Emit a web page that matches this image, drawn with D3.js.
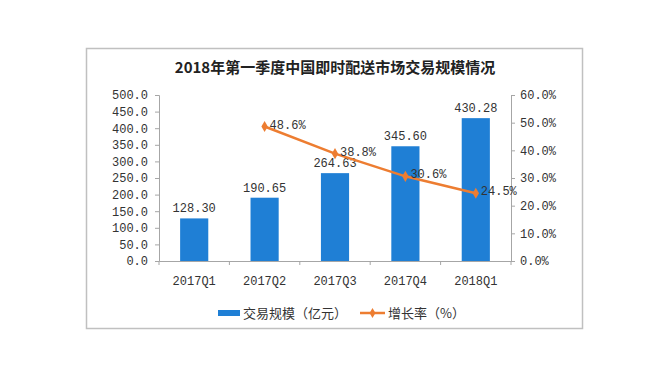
<!DOCTYPE html>
<html><head><meta charset="utf-8">
<script src="https://cdn.jsdelivr.net/npm/d3@7"></script>
<style>body{margin:0;background:#fff;}svg{display:block;}</style>
</head><body>
<svg id="c" width="657" height="383"></svg>
<script>
const title = "2018年第一季度中国即时配送市场交易规模情况";
const categories = ["2017Q1","2017Q2","2017Q3","2017Q4","2018Q1"];
const scaleValues = [128.30,190.65,264.63,345.60,430.28];
const scaleLabels = ["128.30","190.65","264.63","345.60","430.28"];
const growthCats = ["2017Q2","2017Q3","2017Q4","2018Q1"];
const growthValues = [48.6,38.8,30.6,24.5];
const leftTicks = [0,50,100,150,200,250,300,350,400,450,500];
const rightTicks = [0,10,20,30,40,50,60];
const legendNames = ["交易规模（亿元）","增长率（%）"];

const svg = d3.select("#c");
const numFont = "'Liberation Mono', 'DejaVu Sans Mono', monospace";
const cjkFont = "'Noto Sans CJK SC', sans-serif";
const barColor = "#1f7fd5", lineColor = "#ed7d31", axisColor = "#a6a6a6";

// frame
svg.append("rect").attr("x",86.5).attr("y",48.5).attr("width",496).attr("height",280)
  .attr("fill","#fff").attr("stroke","#c0c0c0").attr("stroke-width",1.5);

svg.append("text").attr("x",335).attr("y",73).attr("text-anchor","middle")
  .attr("font-family",cjkFont).attr("font-weight","bold").attr("font-size",15).attr("fill","#222").text(title);

const L=159, R=511, T=95, B=261;
const x = d3.scaleBand().domain(categories).range([L,R]).paddingInner(0.6).paddingOuter(0.3);
const xb = d3.scaleBand().domain(categories).range([L,R]);
const yL = d3.scaleLinear().domain([0,500]).range([B,T]);
const yR = d3.scaleLinear().domain([0,60]).range([B,T]);

// axes
const gL = svg.append("g").attr("transform",`translate(${L},0)`)
  .call(d3.axisLeft(yL).tickValues(leftTicks).tickSize(4).tickFormat(d=>d3.format(".1f")(d)));
const gR = svg.append("g").attr("transform",`translate(${R},0)`)
  .call(d3.axisRight(yR).tickValues(rightTicks).tickSize(4).tickFormat(d=>d3.format(".1f")(d)+"%"));
const gX = svg.append("g").attr("transform",`translate(0,${B})`)
  .call(d3.axisBottom(xb).tickSize(0).tickPadding(15));
// band boundary ticks
svg.append("g").selectAll("line").data(d3.range(categories.length+1)).join("line")
  .attr("x1",i=>L+i*xb.step()).attr("x2",i=>L+i*xb.step())
  .attr("y1",B).attr("y2",B+4).attr("stroke",axisColor);
[gL,gR,gX].forEach(g=>{
  g.selectAll("path,line").attr("stroke",axisColor);
  g.selectAll("text").attr("font-family",numFont).attr("font-size",12).attr("fill","#333");
});
gL.selectAll("text").attr("x",-11);
gR.selectAll("text").attr("x",9);

// bars
svg.append("g").selectAll("rect").data(categories).join("rect")
  .attr("x",d=>x(d)).attr("width",x.bandwidth())
  .attr("y",(d,i)=>yL(scaleValues[i])).attr("height",(d,i)=>B-yL(scaleValues[i]))
  .attr("fill",barColor);
svg.append("g").selectAll("text").data(categories).join("text")
  .attr("x",d=>x(d)+x.bandwidth()/2).attr("y",(d,i)=>yL(scaleValues[i])-6)
  .attr("text-anchor","middle").attr("font-family",numFont).attr("font-size",12).attr("fill","#333")
  .text((d,i)=>scaleLabels[i]);

// line
const cx = d=>xb(d)+xb.bandwidth()/2;
const line = d3.line().x((d,i)=>cx(growthCats[i])).y(d=>yR(d));
svg.append("path").datum(growthValues).attr("d",line).attr("fill","none")
  .attr("stroke",lineColor).attr("stroke-width",2.5);
svg.append("g").selectAll("path").data(growthValues).join("path")
  .attr("d",d3.symbol(d3.symbolDiamond,36))
  .attr("transform",(d,i)=>`translate(${cx(growthCats[i])},${yR(d)})`).attr("fill",lineColor);
svg.append("g").selectAll("text").data(growthValues).join("text")
  .attr("x",(d,i)=>cx(growthCats[i])+5).attr("y",d=>yR(d)+2)
  .attr("font-family",numFont).attr("font-size",12).attr("fill","#333")
  .text(d=>d3.format(".1f")(d)+"%");

// legend
const lg = svg.append("g");
lg.append("rect").attr("x",218).attr("y",310).attr("width",22).attr("height",6).attr("fill",barColor);
lg.append("text").attr("x",243).attr("y",318).attr("font-family",cjkFont).attr("font-size",13).attr("fill","#333").text(legendNames[0]);
lg.append("line").attr("x1",360).attr("x2",385).attr("y1",313).attr("y2",313).attr("stroke",lineColor).attr("stroke-width",2.5);
lg.append("path").attr("d",d3.symbol(d3.symbolDiamond,30)).attr("transform","translate(372.5,313)").attr("fill",lineColor);
lg.append("text").attr("x",388).attr("y",318).attr("font-family",cjkFont).attr("font-size",13).attr("fill","#333").text(legendNames[1]);
</script>
</body></html>
